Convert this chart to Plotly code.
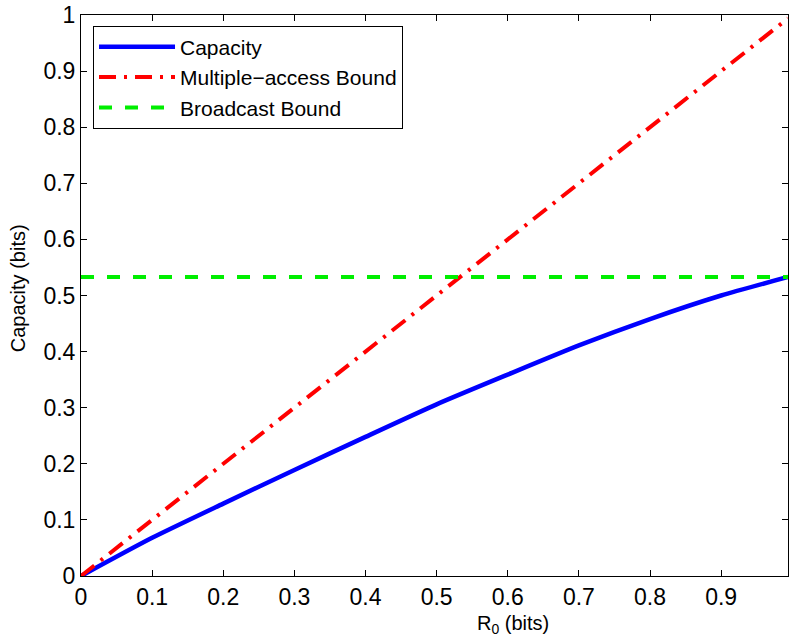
import plotly.graph_objects as go

r0 = [0.0, 0.1, 0.2, 0.3, 0.4, 0.5, 0.6, 0.7, 0.8, 0.9, 0.994]
capacity = [0.0, 0.068, 0.129, 0.189, 0.248, 0.306, 0.359, 0.411, 0.458, 0.500, 0.533]
mac_bound = [0.0, 0.1, 0.2, 0.3, 0.4, 0.5, 0.6, 0.7, 0.8, 0.9, 0.994]
bc_x = [0.0, 0.994]
bc_bound = [0.533, 0.533]

x_ticks = [0, 0.1, 0.2, 0.3, 0.4, 0.5, 0.6, 0.7, 0.8, 0.9]
x_tick_text = ["0", "0.1", "0.2", "0.3", "0.4", "0.5", "0.6", "0.7", "0.8", "0.9"]
y_ticks = [0, 0.1, 0.2, 0.3, 0.4, 0.5, 0.6, 0.7, 0.8, 0.9, 1.0]
y_tick_text = ["0", "0.1", "0.2", "0.3", "0.4", "0.5", "0.6", "0.7", "0.8", "0.9", "1"]

FONT = "Liberation Sans, Arial, Helvetica, sans-serif"
TICKFONT = "Arial, Liberation Sans, sans-serif"

traces = [
    go.Scatter(x=r0, y=capacity, mode="lines", name="Capacity",
               line=dict(color="#0000ff", width=4.5, shape="spline", smoothing=0.6)),
    go.Scatter(x=r0, y=mac_bound, mode="lines", name="Multiple\u2212access Bound",
               line=dict(color="#ff0000", width=4, dash="17px,8px,3px,8px")),
    go.Scatter(x=bc_x, y=bc_bound, mode="lines", name="Broadcast Bound",
               line=dict(color="#00ee00", width=4, dash="13px,13px")),
]

axis_style = dict(showline=True, linecolor="black", linewidth=1, mirror="ticks",
                  ticks="inside", ticklen=6, tickcolor="black", showgrid=False,
                  zeroline=False, automargin=False, tickmode="array",
                  tickfont=dict(family=TICKFONT, size=23, color="black"))

layout = go.Layout(
    template="none",
    width=790, height=638,
    margin=dict(l=81, r=2, t=15, b=62, autoexpand=False),
    plot_bgcolor="white", paper_bgcolor="white",
    font=dict(family=FONT, size=21, color="black"),
    xaxis=dict(range=[0, 0.994], tickvals=x_ticks, ticktext=x_tick_text, **axis_style),
    yaxis=dict(range=[0, 1], tickvals=y_ticks, ticktext=y_tick_text, **axis_style),
    legend=dict(x=0.017, y=0.981, xanchor="left", yanchor="top",
                bgcolor="white", bordercolor="black", borderwidth=1,
                font=dict(family=FONT, size=21, color="black"),
                itemwidth=76, tracegroupgap=0),
    showlegend=True,
)

fig = go.Figure(data=traces, layout=layout)

fig.add_annotation(text="R<sub>0</sub> (bits)", xref="paper", yref="paper",
                   x=0.611, y=-0.0873, xanchor="center", yanchor="middle", showarrow=False,
                   font=dict(family=FONT, size=20, color="black"))
fig.add_annotation(text="Capacity (bits)", xref="paper", yref="paper", textangle=-90,
                   x=-0.0891, y=0.513, xanchor="center", yanchor="middle", showarrow=False,
                   font=dict(family=FONT, size=20, color="black"))

fig.write_html("out.html", config={"displayModeBar": False},
               post_script="document.body.style.margin='0px';document.body.style.overflow='hidden';")
